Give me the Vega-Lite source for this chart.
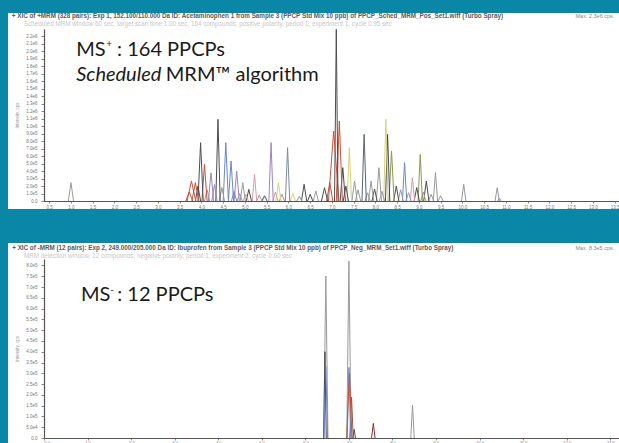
{
  "$schema": "https://vega.github.io/schema/vega-lite/v6.json",
  "background": "#0a86a6",
  "padding": {"left": 8, "top": 12, "right": 0, "bottom": 0},
  "spacing": 34,
  "bounds": "flush",
  "config": {
    "view": {"stroke": null, "fill": "white"},
    "axis": {"grid": false, "labelOverlap": false, "labelFont": "Liberation Sans", "labelFontSize": 4.5, "labelColor": "#777", "tickColor": "#888", "tickSize": 3, "domainColor": "#555", "domainWidth": 1.2, "titleFont": "Liberation Sans", "titleFontSize": 4.5, "titleColor": "#999", "titleFontWeight": "normal"},
    "text": {"font": "Lato"}
  },
  "datasets": {
    "pos": [
      {"t":1.00,"l":0.94,"r":1.06,"h":245000,"c":"gray"},
      {"t":3.77,"l":3.67,"r":3.87,"h":267000,"c":"red"},
      {"t":3.86,"l":3.78,"r":3.94,"h":245000,"c":"red"},
      {"t":3.98,"l":3.92,"r":4.04,"h":780000,"c":"dark"},
      {"t":4.07,"l":4.01,"r":4.13,"h":490000,"c":"red"},
      {"t":4.22,"l":4.16,"r":4.28,"h":379000,"c":"purple"},
      {"t":4.38,"l":4.33,"r":4.43,"h":1092000,"c":"dark"},
      {"t":4.56,"l":4.50,"r":4.62,"h":780000,"c":"blue"},
      {"t":4.68,"l":4.62,"r":4.74,"h":535000,"c":"blue"},
      {"t":4.81,"l":4.75,"r":4.87,"h":401000,"c":"purple"},
      {"t":4.95,"l":4.89,"r":5.01,"h":245000,"c":"gray"},
      {"t":5.09,"l":5.03,"r":5.15,"h":156000,"c":"dark"},
      {"t":5.22,"l":5.17,"r":5.27,"h":357000,"c":"pink"},
      {"t":5.60,"l":5.55,"r":5.65,"h":780000,"c":"purple"},
      {"t":5.77,"l":5.71,"r":5.83,"h":245000,"c":"yellow"},
      {"t":5.98,"l":5.93,"r":6.03,"h":713000,"c":"bluegray"},
      {"t":6.36,"l":6.30,"r":6.42,"h":223000,"c":"dark"},
      {"t":6.63,"l":6.57,"r":6.69,"h":134000,"c":"gray"},
      {"t":6.83,"l":6.76,"r":6.90,"h":178000,"c":"dark"},
      {"t":7.04,"l":6.92,"r":7.16,"h":936000,"c":"red"},
      {"t":7.10,"l":7.06,"r":7.14,"h":2295000,"c":"dark"},
      {"t":7.17,"l":7.10,"r":7.24,"h":1070000,"c":"red"},
      {"t":7.25,"l":7.19,"r":7.31,"h":446000,"c":"dark"},
      {"t":7.40,"l":7.35,"r":7.45,"h":713000,"c":"yellow"},
      {"t":7.52,"l":7.46,"r":7.58,"h":267000,"c":"gray"},
      {"t":7.74,"l":7.69,"r":7.79,"h":891000,"c":"slate"},
      {"t":7.90,"l":7.84,"r":7.96,"h":267000,"c":"gray"},
      {"t":8.08,"l":8.02,"r":8.14,"h":446000,"c":"gray"},
      {"t":8.24,"l":8.19,"r":8.29,"h":1092000,"c":"yellow"},
      {"t":8.28,"l":8.23,"r":8.33,"h":891000,"c":"dark"},
      {"t":8.37,"l":8.31,"r":8.43,"h":669000,"c":"olive"},
      {"t":8.67,"l":8.62,"r":8.72,"h":513000,"c":"blue"},
      {"t":8.85,"l":8.80,"r":8.90,"h":312000,"c":"pink"},
      {"t":9.03,"l":8.98,"r":9.08,"h":624000,"c":"olive"},
      {"t":9.17,"l":9.11,"r":9.23,"h":267000,"c":"dark"},
      {"t":9.38,"l":9.33,"r":9.43,"h":379000,"c":"gray"},
      {"t":10.03,"l":9.98,"r":10.08,"h":223000,"c":"gray"},
      {"t":10.80,"l":10.75,"r":10.85,"h":178000,"c":"gray"},
      {"t":3.72,"l":3.64,"r":3.80,"h":120000,"c":"red"},
      {"t":3.92,"l":3.86,"r":3.98,"h":200000,"c":"dark"},
      {"t":4.13,"l":4.07,"r":4.19,"h":150000,"c":"gray"},
      {"t":4.30,"l":4.24,"r":4.36,"h":220000,"c":"purple"},
      {"t":4.47,"l":4.41,"r":4.53,"h":180000,"c":"gray"},
      {"t":4.75,"l":4.69,"r":4.81,"h":130000,"c":"blue"},
      {"t":4.88,"l":4.82,"r":4.94,"h":100000,"c":"gray"},
      {"t":5.02,"l":4.96,"r":5.08,"h":90000,"c":"pink"},
      {"t":5.33,"l":5.27,"r":5.39,"h":80000,"c":"gray"},
      {"t":5.45,"l":5.39,"r":5.51,"h":70000,"c":"dark"},
      {"t":5.70,"l":5.64,"r":5.76,"h":120000,"c":"pink"},
      {"t":5.85,"l":5.79,"r":5.91,"h":90000,"c":"gray"},
      {"t":6.10,"l":6.04,"r":6.16,"h":100000,"c":"yellow"},
      {"t":6.25,"l":6.19,"r":6.31,"h":60000,"c":"gray"},
      {"t":6.50,"l":6.44,"r":6.56,"h":90000,"c":"dark"},
      {"t":6.95,"l":6.88,"r":7.02,"h":250000,"c":"red"},
      {"t":7.32,"l":7.26,"r":7.38,"h":200000,"c":"dark"},
      {"t":7.60,"l":7.54,"r":7.66,"h":150000,"c":"gray"},
      {"t":7.82,"l":7.76,"r":7.88,"h":110000,"c":"gray"},
      {"t":7.98,"l":7.92,"r":8.04,"h":160000,"c":"dark"},
      {"t":8.15,"l":8.09,"r":8.21,"h":130000,"c":"gray"},
      {"t":8.48,"l":8.42,"r":8.54,"h":200000,"c":"dark"},
      {"t":8.58,"l":8.52,"r":8.64,"h":150000,"c":"gray"},
      {"t":8.76,"l":8.70,"r":8.82,"h":110000,"c":"gray"},
      {"t":8.95,"l":8.89,"r":9.01,"h":180000,"c":"dark"},
      {"t":9.10,"l":9.04,"r":9.16,"h":120000,"c":"gray"},
      {"t":9.28,"l":9.22,"r":9.34,"h":90000,"c":"gray"},
      {"t":9.50,"l":9.44,"r":9.56,"h":70000,"c":"gray"},
      {"t":10.85,"l":10.81,"r":10.89,"h":40000,"c":"gray"}
    ],
    "neg": [
      {"t":6.47,"l":6.42,"r":6.52,"h":751000,"c":"gray"},
      {"t":6.45,"l":6.42,"r":6.48,"h":400000,"c":"dark"},
      {"t":6.47,"l":6.43,"r":6.51,"h":332000,"c":"blue"},
      {"t":7.00,"l":6.95,"r":7.05,"h":821000,"c":"gray"},
      {"t":7.00,"l":6.96,"r":7.04,"h":327000,"c":"blue"},
      {"t":7.01,"l":6.95,"r":7.07,"h":300000,"c":"red"},
      {"t":7.06,"l":7.02,"r":7.10,"h":190000,"c":"brown"},
      {"t":7.12,"l":7.09,"r":7.15,"h":40000,"c":"dark"},
      {"t":7.56,"l":7.52,"r":7.60,"h":68000,"c":"darkred"},
      {"t":8.46,"l":8.42,"r":8.50,"h":152000,"c":"gray"}
    ]
  },
  "vconcat": [
    {
      "width": 611,
      "height": 196,
      "layer": [
        {
          "data": {"name": "pos"},
          "mark": {"type": "rule", "strokeWidth": 1},
          "encoding": {
            "x": {"field": "t", "type": "quantitative", "scale": {"domain": [0.38, 13.6], "range": [36, 611], "zero": false, "nice": false},
                  "axis": {"values": [0.5,1,1.5,2,2.5,3,3.5,4,4.5,5,5.5,6,6.5,7,7.5,8,8.5,9,9.5,10,10.5,11,11.5,12,12.5,13,13.5], "tickCount": 200, "format": ".1f", "labelOverlap": false, "offset": -8, "tickSize": 2, "labelPadding": 1, "title": null}},
            "y": {"field": "h", "type": "quantitative", "scale": {"domain": [0, 2300000], "range": [188, 16], "zero": false, "nice": false},
                  "axis": {"values": [0,100000,200000,300000,400000,500000,600000,700000,800000,900000,1000000,1100000,1200000,1300000,1400000,1500000,1600000,1700000,1800000,1900000,2000000,2100000,2200000], "tickCount": 200, "labelOverlap": false, "labelExpr": "datum.value == 0 ? '0.0' : replace(format(datum.value, '.1e'), 'e+', 'e')", "offset": -36, "labelPadding": 4, "title": "Intensity, cps", "titlePadding": 6}},
            "x2": {"field": "l"},
            "y2": {"datum": 0},
            "color": {"field": "c", "type": "nominal", "legend": null,
                      "scale": {"domain": ["gray","dark","red","blue","purple","yellow","olive","pink","bluegray","slate","brown","darkred"],
                                "range": ["#9a9a9a","#4d4d4d","#c8503c","#6f86c8","#9b86c0","#d6d27a","#8f955a","#d89aa8","#7d8aa5","#5a6478","#8a5a3a","#8b2f2f"]}}
          }
        },
        {
          "data": {"name": "pos"},
          "mark": {"type": "rule", "strokeWidth": 1},
          "encoding": {
            "x": {"field": "t", "type": "quantitative"},
            "y": {"field": "h", "type": "quantitative"},
            "x2": {"field": "r"},
            "y2": {"datum": 0},
            "color": {"field": "c", "type": "nominal", "legend": null}
          }
        },
        {
          "data": {"values": [{}]},
          "mark": {"type": "text", "text": "+ XIC of +MRM (328 pairs): Exp 1, 152.100/110.000 Da ID: Acetaminophen 1 from Sample 3 (PPCP Std Mix 10 ppb) of PPCP_Sched_MRM_Pos_Set1.wiff (Turbo Spray)", "fontSize": 6.3, "font": "Liberation Sans", "fontWeight": "bold", "color": "#5a5a5a", "align": "left", "baseline": "middle"},
          "encoding": {"x": {"datum": -0.36, "type": "quantitative"}, "y": {"datum": 2474000, "type": "quantitative"}}
        },
        {
          "data": {"values": [{}]},
          "mark": {"type": "text", "text": "Scheduled MRM window 60 sec, target scan time 1.00 sec, 164 compounds, positive polarity, period 1, experiment 1, cycle 0.95 sec", "fontSize": 6.3, "font": "Liberation Sans", "color": "#c8c8c8", "align": "left", "baseline": "middle"},
          "encoding": {"x": {"datum": -0.08, "type": "quantitative"}, "y": {"datum": 2367000, "type": "quantitative"}}
        },
        {
          "data": {"values": [{}]},
          "mark": {"type": "text", "text": "Max. 2.3e6 cps.", "fontSize": 5.5, "font": "Liberation Sans", "color": "#888", "align": "left", "baseline": "middle"},
          "encoding": {"x": {"datum": 12.6, "type": "quantitative"}, "y": {"datum": 2474000, "type": "quantitative"}}
        },
        {
          "data": {"values": [{}]},
          "mark": {"type": "text", "text": "MS", "fontSize": 20, "color": "#1a1a1a", "align": "left", "baseline": "alphabetic"},
          "encoding": {"x": {"datum": 1.12, "type": "quantitative"}, "y": {"datum": 1939000, "type": "quantitative"}}
        },
        {
          "data": {"values": [{}]},
          "mark": {"type": "text", "text": "+", "fontSize": 10, "color": "#1a1a1a", "align": "left", "baseline": "alphabetic"},
          "encoding": {"x": {"datum": 1.81, "type": "quantitative"}, "y": {"datum": 2060000, "type": "quantitative"}}
        },
        {
          "data": {"values": [{}]},
          "mark": {"type": "text", "text": ": 164 PPCPs", "fontSize": 20, "color": "#1a1a1a", "align": "left", "baseline": "alphabetic"},
          "encoding": {"x": {"datum": 2.06, "type": "quantitative"}, "y": {"datum": 1939000, "type": "quantitative"}}
        },
        {
          "data": {"values": [{}]},
          "mark": {"type": "text", "text": "Scheduled", "fontSize": 20, "fontStyle": "italic", "color": "#1a1a1a", "align": "left", "baseline": "alphabetic"},
          "encoding": {"x": {"datum": 1.12, "type": "quantitative"}, "y": {"datum": 1605000, "type": "quantitative"}}
        },
        {
          "data": {"values": [{}]},
          "mark": {"type": "text", "text": "MRM™ algorithm", "fontSize": 20, "color": "#1a1a1a", "align": "left", "baseline": "alphabetic"},
          "encoding": {"x": {"datum": 3.18, "type": "quantitative"}, "y": {"datum": 1605000, "type": "quantitative"}}
        }
      ]
    },
    {
      "width": 611,
      "height": 201,
      "layer": [
        {
          "data": {"name": "neg"},
          "mark": {"type": "rule", "strokeWidth": 1},
          "encoding": {
            "x": {"field": "t", "type": "quantitative", "scale": {"domain": [0, 13.2], "range": [36, 611], "zero": false, "nice": false},
                  "axis": {"values": [0,1,2,3,4,5,6,7,8,9,10,11,12,13], "tickCount": 200, "format": ".1f", "labelOverlap": false, "offset": -6, "tickSize": 2, "labelPadding": 0, "labelFontSize": 4, "title": null}},
            "y": {"field": "h", "type": "quantitative", "scale": {"domain": [0, 830000], "range": [195, 16], "zero": false, "nice": false},
                  "axis": {"values": [0,50000,100000,150000,200000,250000,300000,350000,400000,450000,500000,550000,600000,650000,700000,750000,800000], "tickCount": 200, "labelOverlap": false, "labelExpr": "datum.value == 0 ? '0.0' : replace(format(datum.value, '.1e'), 'e+', 'e')", "offset": -36, "labelPadding": 4, "title": "Intensity, cps", "titlePadding": 6}},
            "x2": {"field": "l"},
            "y2": {"datum": 0},
            "color": {"field": "c", "type": "nominal", "legend": null,
                      "scale": {"domain": ["gray","dark","red","blue","purple","yellow","olive","pink","bluegray","slate","brown","darkred"],
                                "range": ["#9a9a9a","#4d4d4d","#c8503c","#6f86c8","#9b86c0","#d6d27a","#8f955a","#d89aa8","#7d8aa5","#5a6478","#8a5a3a","#8b2f2f"]}}
          }
        },
        {
          "data": {"name": "neg"},
          "mark": {"type": "rule", "strokeWidth": 1},
          "encoding": {
            "x": {"field": "t", "type": "quantitative"},
            "y": {"field": "h", "type": "quantitative"},
            "x2": {"field": "r"},
            "y2": {"datum": 0},
            "color": {"field": "c", "type": "nominal", "legend": null}
          }
        },
        {
          "data": {"values": [{}]},
          "mark": {"type": "text", "text": "+ XIC of -MRM (12 pairs): Exp 2, 249.000/205.000 Da ID: Ibuprofen from Sample 3 (PPCP Std Mix 10 ppb) of PPCP_Neg_MRM_Set1.wiff (Turbo Spray)", "fontSize": 6.3, "font": "Liberation Sans", "fontWeight": "bold", "color": "#5a5a5a", "align": "left", "baseline": "middle"},
          "encoding": {"x": {"datum": -0.73, "type": "quantitative"}, "y": {"datum": 882000, "type": "quantitative"}}
        },
        {
          "data": {"values": [{}]},
          "mark": {"type": "text", "text": "MRM detection window, 12 compounds, negative polarity, period 1, experiment 2, cycle 0.60 sec", "fontSize": 6.3, "font": "Liberation Sans", "color": "#c8c8c8", "align": "left", "baseline": "middle"},
          "encoding": {"x": {"datum": -0.46, "type": "quantitative"}, "y": {"datum": 844000, "type": "quantitative"}}
        },
        {
          "data": {"values": [{}]},
          "mark": {"type": "text", "text": "Max. 8.3e5 cps.", "fontSize": 5.5, "font": "Liberation Sans", "color": "#888", "align": "left", "baseline": "middle"},
          "encoding": {"x": {"datum": 12.2, "type": "quantitative"}, "y": {"datum": 882000, "type": "quantitative"}}
        },
        {
          "data": {"values": [{}]},
          "mark": {"type": "text", "text": "MS", "fontSize": 20, "color": "#1a1a1a", "align": "left", "baseline": "alphabetic"},
          "encoding": {"x": {"datum": 0.85, "type": "quantitative"}, "y": {"datum": 636000, "type": "quantitative"}}
        },
        {
          "data": {"values": [{}]},
          "mark": {"type": "text", "text": "-", "fontSize": 10, "color": "#1a1a1a", "align": "left", "baseline": "alphabetic"},
          "encoding": {"x": {"datum": 1.52, "type": "quantitative"}, "y": {"datum": 672000, "type": "quantitative"}}
        },
        {
          "data": {"values": [{}]},
          "mark": {"type": "text", "text": ": 12 PPCPs", "fontSize": 20, "color": "#1a1a1a", "align": "left", "baseline": "alphabetic"},
          "encoding": {"x": {"datum": 1.68, "type": "quantitative"}, "y": {"datum": 636000, "type": "quantitative"}}
        }
      ]
    }
  ]
}
